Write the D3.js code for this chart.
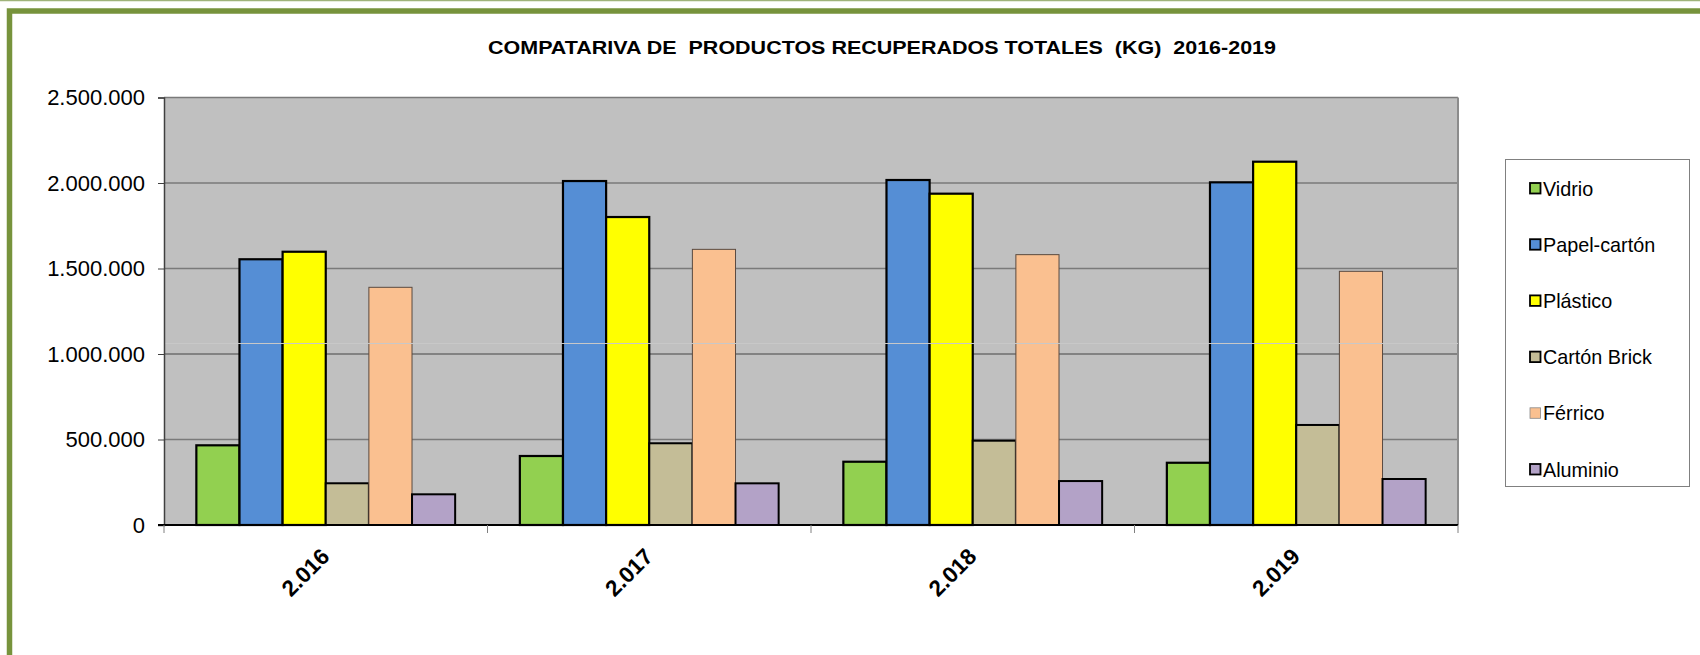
<!DOCTYPE html>
<html>
<head>
<meta charset="utf-8">
<script src="https://cdn.jsdelivr.net/npm/d3@7"></script>
<style>
  html, body { margin: 0; padding: 0; background: #fff; }
  svg { display: block; font-family: "Liberation Sans", Arial, sans-serif; }
</style>
</head>
<body>
<div id="chart"></div>
<script>
// ── Data ────────────────────────────────────────────────────────────────────
const YEARS     = [2016, 2017, 2018, 2019];
const MATERIALS = ['Vidrio', 'Papel-cartón', 'Plástico', 'Cartón Brick', 'Férrico', 'Aluminio'];

const VIDRIO       = [466000, 403500, 370000, 364000];
const PAPEL_CARTON = [1554000, 2011500, 2017500, 2004000];
const PLASTICO     = [1598000, 1801000, 1937500, 2124500];
const CARTON_BRICK = [244000, 478000, 493000, 585000];
const FERRICO      = [1390000, 1612000, 1581000, 1483500];
const ALUMINIO     = [179500, 243700, 257000, 269000];

const SERIES = [VIDRIO, PAPEL_CARTON, PLASTICO, CARTON_BRICK, FERRICO, ALUMINIO];
const Y_TICKS = [0, 500000, 1000000, 1500000, 2000000, 2500000];

const TITLE = 'COMPATARIVA DE  PRODUCTOS RECUPERADOS TOTALES  (KG)  2016-2019';

// ── Styles ──────────────────────────────────────────────────────────────────
const FILLS   = ['#92d050', '#558ed5', '#ffff00', '#c4bd97', '#fac090', '#b3a2c7'];
const STROKES = ['#000', '#000', '#000', '#000', '#5a4a40', '#000'];
const STROKE_W = [2.2, 2.2, 2.2, 2, 1, 2];
const FRAME_GREEN = '#77933c';
const PLOT_BG = '#c0c0c0';

const width = 1700, height = 655;
const plot = { left: 164, right: 1458, top: 97.5, bottom: 525 };

const locale = d3.formatLocale({ decimal: ',', thousands: '.', grouping: [3], currency: ['', ''] });
const fmt = locale.format(',d');

const svg = d3.select('#chart').append('svg')
  .attr('width', width)
  .attr('height', height);

// outer frame
svg.append('line')
  .attr('x1', 0).attr('x2', width).attr('y1', 0.5).attr('y2', 0.5)
  .attr('stroke', '#9fb37a').attr('stroke-width', 1.5);

svg.append('rect')
  .attr('x', 9.5).attr('y', 11)
  .attr('width', width + 20).attr('height', height + 20)
  .attr('fill', '#fff')
  .attr('stroke', FRAME_GREEN)
  .attr('stroke-width', 5.5);

// title (condensed bold, stretched to the reference width)
svg.append('text')
  .attr('x', 488).attr('y', 53.5)
  .attr('textLength', 788)
  .attr('lengthAdjust', 'spacingAndGlyphs')
  .attr('font-size', 18.5)
  .attr('font-weight', 'bold')
  .attr('fill', '#000')
  .style('white-space', 'pre')
  .text(TITLE);

// ── Scales ──────────────────────────────────────────────────────────────────
const x0 = d3.scaleBand()
  .domain(YEARS)
  .range([plot.left, plot.right])
  .padding(0);

const x1 = d3.scaleBand()
  .domain(d3.range(MATERIALS.length))
  .range([x0.bandwidth() * 0.1, x0.bandwidth() * 0.9])
  .padding(0);

const y = d3.scaleLinear()
  .domain([0, 2500000])
  .range([plot.bottom, plot.top]);

// plot background
svg.append('rect')
  .attr('x', plot.left).attr('y', plot.top)
  .attr('width', plot.right - plot.left)
  .attr('height', plot.bottom - plot.top)
  .attr('fill', PLOT_BG);

// gridlines
svg.append('g')
  .selectAll('line')
  .data(Y_TICKS.filter(d => d > 0))
  .join('line')
  .attr('x1', plot.left).attr('x2', plot.right)
  .attr('y1', d => y(d)).attr('y2', d => y(d))
  .attr('stroke', d => d === 1000000 ? '#444' : '#7a7a7a')
  .attr('stroke-width', d => d === 1000000 ? 1 : 1.6);

// right border
svg.append('line')
  .attr('x1', plot.right).attr('x2', plot.right)
  .attr('y1', plot.top).attr('y2', plot.bottom)
  .attr('stroke', '#8c8c8c').attr('stroke-width', 2);

// bars
const groups = svg.append('g')
  .selectAll('g')
  .data(YEARS)
  .join('g')
  .attr('transform', d => `translate(${x0(d)},0)`);

groups.selectAll('rect')
  .data((yr, i) => SERIES.map((s, k) => ({ k, v: s[i] })))
  .join('rect')
  .attr('x', d => x1(d.k))
  .attr('y', d => y(d.v))
  .attr('width', x1.bandwidth())
  .attr('height', d => y(0) - y(d.v))
  .attr('fill', d => FILLS[d.k])
  .attr('stroke', d => STROKES[d.k])
  .attr('stroke-width', d => STROKE_W[d.k]);

// faint rendering line seen across the tall bars
svg.append('line')
  .attr('x1', plot.left).attr('x2', plot.right)
  .attr('y1', 343.5).attr('y2', 343.5)
  .attr('stroke', '#c8c8c8').attr('stroke-width', 1);

// ── Axes ────────────────────────────────────────────────────────────────────
const yAxis = svg.append('g')
  .attr('transform', `translate(${plot.left},0)`)
  .call(d3.axisLeft(y).tickValues(Y_TICKS).tickFormat(fmt).tickSize(6).tickPadding(13));

yAxis.select('.domain').attr('stroke', '#404040').attr('stroke-width', 1.5);
yAxis.selectAll('.tick line').attr('stroke', '#404040');
yAxis.selectAll('.tick text')
  .attr('font-size', 22)
  .attr('fill', '#000')
  .attr('font-family', '"Liberation Sans", Arial, sans-serif');

// x axis line
svg.append('line')
  .attr('x1', plot.left - 6).attr('x2', plot.right)
  .attr('y1', plot.bottom).attr('y2', plot.bottom)
  .attr('stroke', '#000').attr('stroke-width', 2);

// category ticks
svg.append('g')
  .selectAll('line')
  .data(YEARS.map(d => x0(d)).concat([plot.right]))
  .join('line')
  .attr('x1', d => d).attr('x2', d => d)
  .attr('y1', plot.bottom).attr('y2', plot.bottom + 8)
  .attr('stroke', '#808080').attr('stroke-width', 1);

// category labels
svg.append('g')
  .selectAll('text')
  .data(YEARS)
  .join('text')
  .attr('transform', d => `translate(${x0(d) + x0.bandwidth() / 2 + 5},${plot.bottom + 33}) rotate(-45)`)
  .attr('text-anchor', 'end')
  .attr('font-size', 22.5)
  .attr('font-weight', 'bold')
  .attr('fill', '#000')
  .text(d => fmt(d));

// ── Legend ──────────────────────────────────────────────────────────────────
const legend = svg.append('g');

legend.append('rect')
  .attr('x', 1505.5).attr('y', 159.5)
  .attr('width', 184).attr('height', 327)
  .attr('fill', '#fff')
  .attr('stroke', '#808080')
  .attr('stroke-width', 1);

const items = legend.selectAll('g.item')
  .data(MATERIALS)
  .join('g')
  .attr('class', 'item')
  .attr('transform', (d, i) => `translate(1530,${188.5 + i * 56.2})`);

items.append('rect')
  .attr('x', 0).attr('y', -5.5)
  .attr('width', 10.5).attr('height', 10.5)
  .attr('fill', (d, i) => FILLS[i])
  .attr('stroke', (d, i) => i === 4 ? '#888' : '#000')
  .attr('stroke-width', (d, i) => i === 4 ? 0.8 : 1.8);

items.append('text')
  .attr('x', 13).attr('y', 0)
  .attr('dy', '0.36em')
  .attr('font-size', 19.8)
  .attr('fill', '#000')
  .text(d => d);
</script>
</body>
</html>
